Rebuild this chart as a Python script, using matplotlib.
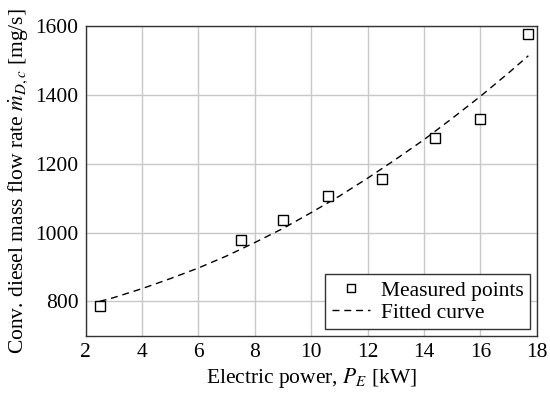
import numpy as np
import matplotlib
matplotlib.use("Agg")
import matplotlib.pyplot as plt

plt.rcParams['font.family'] = ['Liberation Serif', 'DejaVu Serif']
plt.rcParams['mathtext.fontset'] = 'stix'

# Measured points
power = [2.5, 7.5, 9.0, 10.6, 12.5, 14.4, 16.0, 17.7]
flow = [786, 977, 1037, 1107, 1156, 1275, 1331, 1577]

# Fitted curve
fit_power = [2.5, 3, 4, 5, 6, 7, 8, 9, 10, 11, 12, 13, 14, 15, 16, 17, 17.7]
fit_flow = [800, 811, 837, 866, 897, 932, 971, 1012, 1058, 1106, 1158, 1213, 1270, 1332, 1396, 1464, 1514]

fig, ax = plt.subplots(figsize=(5.5, 3.96), dpi=100)
fig.subplots_adjust(left=0.1555, right=0.976, top=0.934, bottom=0.152)

ax.plot(power, flow, 's', mfc='white', mec='black', ms=7, mew=1.0,
        label='Measured points', zorder=3)
ax.plot(fit_power, fit_flow, '--', color='black', lw=1.0, dashes=(5, 3.5),
        label='Fitted curve', zorder=2)

ax.set_xlim(2, 18)
ax.set_ylim(700, 1600)
ax.set_xticks(np.arange(2, 19, 2))
ax.set_yticks([800, 1000, 1200, 1400, 1600])
ax.tick_params(labelsize=15.5, direction='in', length=0, pad=5)
ax.grid(color='#c8c8c8', lw=1.0)
ax.set_axisbelow(True)
for s in ax.spines.values():
    s.set_linewidth(1.0)
    s.set_color('#333333')

ax.set_xlabel(r'Electric power, $P_E$ [kW]', fontsize=15.5, labelpad=3)
ax.set_ylabel(r'Conv. diesel mass flow rate $\dot{m}_{D,c}$ [mg/s]', fontsize=15.5, labelpad=4)

leg = ax.legend(loc='lower right', fontsize=15.5, fancybox=False, edgecolor='#333333',
                framealpha=1, handlelength=1.8, handletextpad=0.5, markerscale=0.85,
                borderpad=0.3, labelspacing=0.1, borderaxespad=0.3)
leg.get_frame().set_linewidth(1.0)

fig.savefig("out.png", dpi=100)
